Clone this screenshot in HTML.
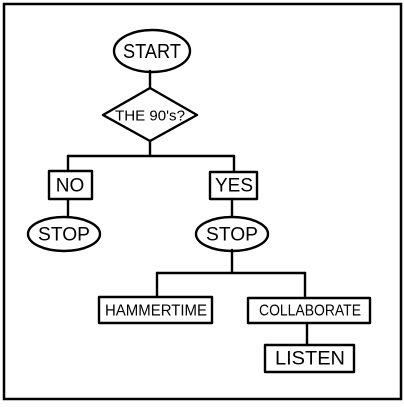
<!DOCTYPE html>
<html><head><style>
html,body{margin:0;padding:0;background:#fff;}
svg text{font-family:"Liberation Sans",sans-serif;fill:#000;text-anchor:middle;dominant-baseline:central;}
</style></head><body>
<svg width="404" height="402" viewBox="0 0 404 402" xmlns="http://www.w3.org/2000/svg">
<rect x="4" y="4" width="397" height="395" fill="#fff" stroke="#000" stroke-width="2.5"/>
<g fill="none" stroke="#000" stroke-width="2.4" stroke-linecap="round" stroke-linejoin="round">
<ellipse cx="152" cy="51" rx="38" ry="21"/>
<line x1="150" y1="71" x2="150" y2="88"/>
<polygon points="103,115 150,88 197,115 150,141"/>
<line x1="150" y1="141" x2="150" y2="156"/>
<line x1="68" y1="156" x2="234" y2="156"/>
<line x1="68" y1="156" x2="68" y2="171"/>
<line x1="234" y1="156" x2="234" y2="172"/>
<rect x="49" y="171" width="43" height="28"/>
<rect x="210" y="172" width="47" height="27"/>
<line x1="68" y1="199" x2="68" y2="217"/>
<line x1="232" y1="199" x2="232" y2="217"/>
<ellipse cx="64" cy="234" rx="36" ry="17"/>
<ellipse cx="232" cy="234" rx="36" ry="17"/>
<line x1="232" y1="250" x2="232" y2="273"/>
<line x1="157" y1="273" x2="305" y2="273"/>
<line x1="157" y1="273" x2="157" y2="297"/>
<line x1="305" y1="273" x2="305" y2="298"/>
<rect x="99" y="297" width="113" height="26"/>
<rect x="248" y="298" width="122" height="25"/>
<line x1="307" y1="323" x2="307" y2="345"/>
<rect x="265" y="345" width="89" height="27"/>
</g>
<text x="152" y="52" font-size="20" textLength="58" lengthAdjust="spacingAndGlyphs">START</text>
<text x="150" y="116" font-size="15" textLength="70" lengthAdjust="spacingAndGlyphs">THE 90's?</text>
<text x="70" y="186" font-size="19">NO</text>
<text x="234" y="186" font-size="19">YES</text>
<text x="64" y="235" font-size="19" textLength="52" lengthAdjust="spacingAndGlyphs">STOP</text>
<text x="232" y="235" font-size="19" textLength="52" lengthAdjust="spacingAndGlyphs">STOP</text>
<text x="156" y="311" font-size="16" textLength="102" lengthAdjust="spacingAndGlyphs">HAMMERTIME</text>
<text x="310" y="311" font-size="16" textLength="102" lengthAdjust="spacingAndGlyphs">COLLABORATE</text>
<text x="310" y="359" font-size="19" textLength="70" lengthAdjust="spacingAndGlyphs">LISTEN</text>
</svg>
</body></html>
